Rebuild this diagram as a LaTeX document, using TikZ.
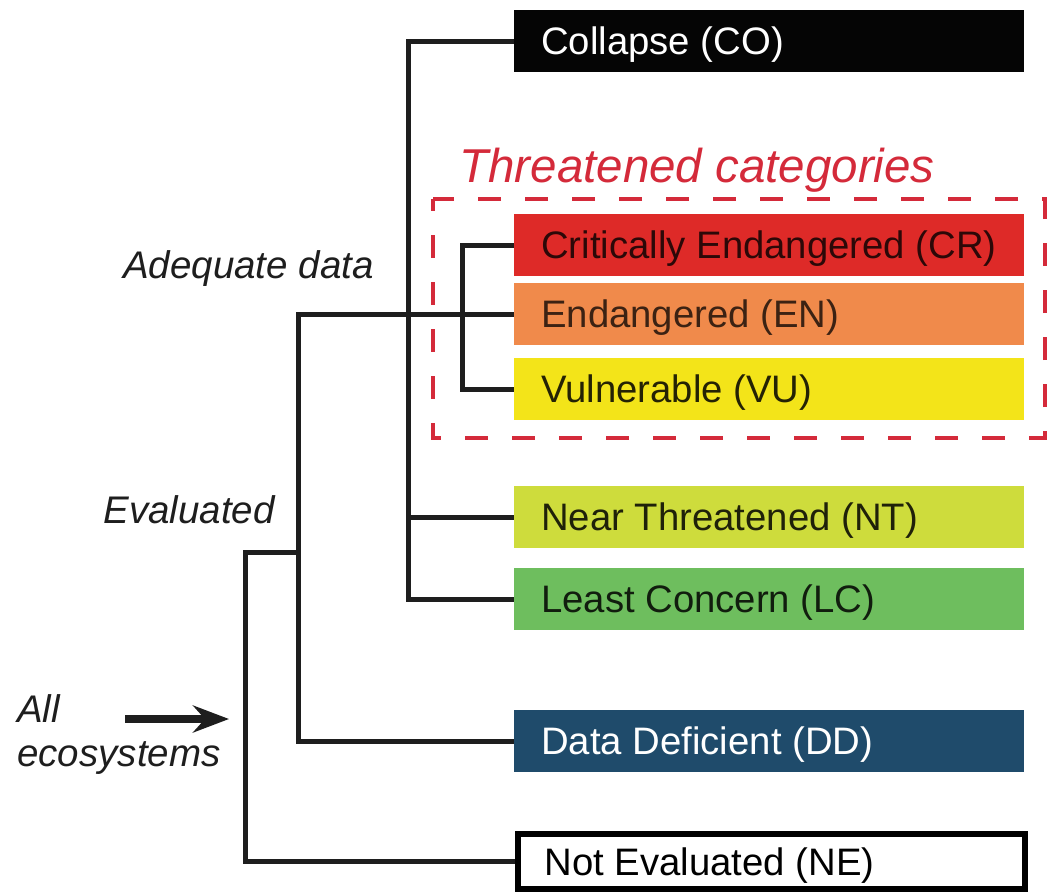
\documentclass[tikz,border=0pt]{standalone}
\usepackage{fontspec}
\setmainfont{Liberation Sans}
\usetikzlibrary{arrows.meta}
\definecolor{coC}{HTML}{050505}
\definecolor{crC}{HTML}{DE2A28}
\definecolor{enC}{HTML}{F08A4B}
\definecolor{vuC}{HTML}{F3E419}
\definecolor{ntC}{HTML}{CEDC3C}
\definecolor{lcC}{HTML}{6EBE5E}
\definecolor{ddC}{HTML}{1F4B6B}
\definecolor{thrC}{HTML}{D42A3A}
\definecolor{lineC}{HTML}{1E1E1E}
\begin{document}
\begin{tikzpicture}[x=1pt,y=-1pt,
  catbox/.style={rectangle, draw=none, minimum width=510pt, minimum height=62pt, anchor=west, inner sep=0pt},
  cattext/.style={anchor=west, xshift=27pt, yshift=-4pt, inner sep=0pt, font=\fontsize{38.3}{44}\selectfont},
  conn/.style={draw=lineC, line width=5pt},
  side/.style={font=\fontsize{38.5}{44}\selectfont\itshape, text=lineC, inner sep=0pt}]
\useasboundingbox (0,0) rectangle (1051,895);

% category boxes
\node[catbox, fill=coC, label={[cattext,text=white]west:Collapse (CO)}] (CO) at (514,41) {};
\node[catbox, fill=crC, label={[cattext,text=black!80!crC]west:Critically Endangered (CR)}] (CR) at (514,245) {};
\node[catbox, fill=enC, label={[cattext,text=black!75!enC]west:Endangered (EN)}] (EN) at (514,314) {};
\node[catbox, fill=vuC, label={[cattext,text=black!85!vuC]west:Vulnerable (VU)}] (VU) at (514,389) {};
\node[catbox, fill=ntC, label={[cattext,text=black!85!ntC]west:Near Threatened (NT)}] (NT) at (514,517) {};
\node[catbox, fill=lcC, label={[cattext,text=black!85!lcC]west:Least Concern (LC)}] (LC) at (514,599) {};
\node[catbox, fill=ddC, label={[cattext,text=white]west:Data Deficient (DD)}] (DD) at (514,741) {};
\node[catbox, draw=black, line width=6pt, fill=white, minimum width=507.5pt, minimum height=55pt,
      label={[cattext,text=black,xshift=3pt]west:Not Evaluated (NE)}] (NE) at (514.5,861.5) {};

% threatened frame
\draw[thrC, line width=4.5pt, dash pattern=on 23pt off 24pt, dash phase=11pt] (433,199) rectangle (1045,438);
\node[font=\fontsize{47.5}{52}\selectfont\itshape, text=thrC, inner sep=0pt] (thr) at (697,170) {Threatened categories};

% side labels
\node[side, anchor=west] (adlab) at (123,269) {Adequate data};
\node[side] (evlab) at (189,510) {Evaluated};
\node[side, anchor=west, align=left] (alllab) at (17,735) {All\\ecosystems};

% tree
\coordinate (j0) at (245,552);
\coordinate (j1) at (298,552);
\coordinate (ad) at (408,300);
\coordinate (th) at (462,300);
\draw[conn] (NE.west) -| (j0) -- (j1);
\draw[conn] (DD.west) -| (EN.west -| j1) -- (EN.west);
\draw[conn] (CO.west) -| (LC.west -| ad) -- (LC.west);
\draw[conn] (NT.west -| ad) -- (NT.west);
\draw[conn] (CR.west) -| (VU.west -| th) -- (VU.west);

% arrow
\coordinate (arrS) at (125,719);
\coordinate (arrE) at (229,719);
\draw[lineC, line width=8.5pt, -{Stealth[length=36pt,width=27pt,inset=12pt]}] (arrS) -- (arrE);
\end{tikzpicture}
\end{document}
